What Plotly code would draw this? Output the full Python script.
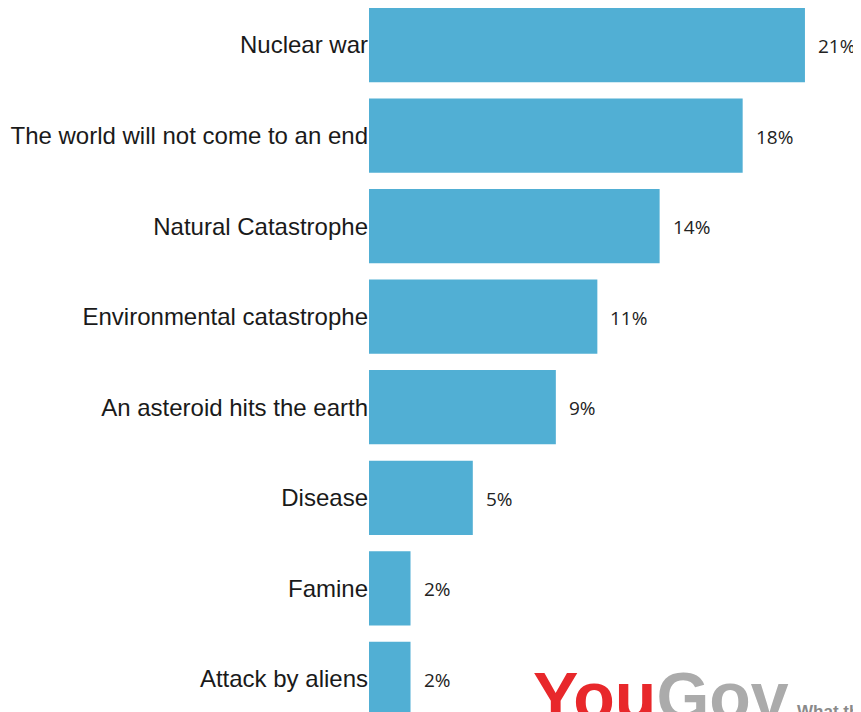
import plotly.graph_objects as go

categories = ["Nuclear war", "The world will not come to an end", "Natural Catastrophe",
              "Environmental catastrophe", "An asteroid hits the earth", "Disease",
              "Famine", "Attack by aliens"]
values = [21, 18, 14, 11, 9, 5, 2, 2]
value_labels = [f"{v}%" for v in values]

fig = go.Figure()
fig.add_trace(go.Bar(
    y=categories, x=values, orientation="h",
    marker=dict(color="#51AFD4", line=dict(width=0)),
    hoverinfo="skip",
))

annotations = []
for c, v, t in zip(categories, values, value_labels):
    annotations.append(dict(x=v, y=c, xref="x", yref="y", text=t, showarrow=False,
                            xanchor="left", xshift=11, yshift=-1,
                            font=dict(family="Open Sans", size=19, color="#222222")))

annotations.append(dict(
    xref="paper", yref="paper", x=0.329, y=-0.034, xanchor="left", yanchor="bottom",
    text="<b><span style='color:#E8282B'>You</span><span style='color:#ABABAB'>Gov</span></b>",
    showarrow=False, font=dict(family="Liberation Sans", size=68)))
annotations.append(dict(
    xref="paper", yref="paper", x=0.866, y=-0.0163, xanchor="left", yanchor="bottom",
    text="<b>What the world thinks</b>", showarrow=False,
    font=dict(family="Liberation Sans", size=17, color="#8A8A8A")))

fig.update_layout(
    width=853, height=704,
    margin=dict(l=361, r=0, t=0, b=0),
    paper_bgcolor="white", plot_bgcolor="white",
    bargap=0.18,
    showlegend=False,
    xaxis=dict(range=[0, 23.7], visible=False, fixedrange=True),
    yaxis=dict(range=[7.366, -0.409], showgrid=False, zeroline=False, showline=False,
               ticks="", ticklabelstandoff=0,
               tickfont=dict(family="Liberation Sans", size=24, color="#1A1A1A")),
    annotations=annotations,
)

fig.write_html("out.html", config={"displayModeBar": False})
